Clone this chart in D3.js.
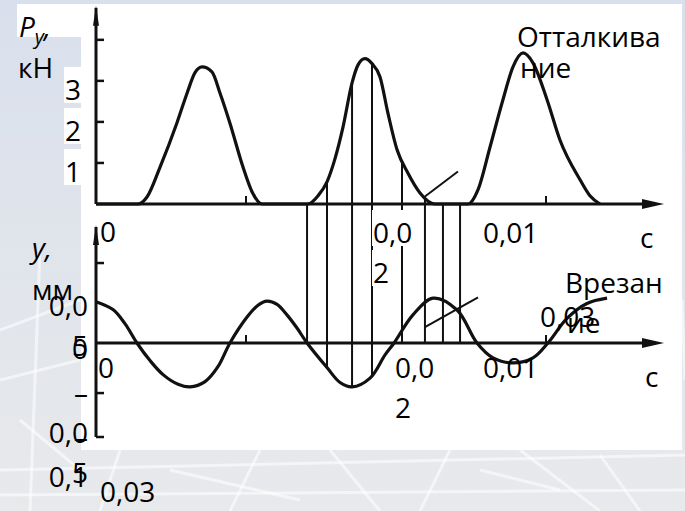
<!DOCTYPE html>
<html>
<head>
<meta charset="utf-8">
<script src="https://cdn.jsdelivr.net/npm/d3@7/dist/d3.min.js"></script>
<style>
    html, body { margin: 0; padding: 0; overflow: hidden; background: #e4e7ec; }
</style>
</head>
<body>
<script>

// Upper curve: cutting force P_y, kN, against time, s
var forceTime = [0, 0.0028, 0.0034, 0.00427, 0.0054, 0.00607, 0.0066, 0.00707, 0.00773, 0.00827,
    0.00893, 0.0098, 0.0104, 0.01107,
    0.01413, 0.0148, 0.0154, 0.01593, 0.01647, 0.01707, 0.01747, 0.01793, 0.0184, 0.01893,
    0.01947, 0.02007, 0.0208, 0.0216, 0.0226,
    0.0248, 0.02547, 0.02627, 0.02713, 0.0278, 0.02847, 0.02913, 0.03007, 0.03093, 0.03227,
    0.03293, 0.0336];
var forceKN = [0, 0, 0.17, 0.9, 1.98, 2.7, 3.2, 3.34, 3.22, 2.7,
    1.97, 0.9, 0.3, 0,
    0, 0.2, 0.54, 1.1, 1.88, 2.95, 3.39, 3.54, 3.42, 3.1,
    2.2, 1.32, 0.75, 0.27, 0,
    0, 0.35, 1.39, 2.54, 3.34, 3.68, 3.44, 2.54, 1.56, 0.59,
    0.2, 0];

// Lower curve: tool displacement y, mm, against time, s
var depthTime = [0, 0.00113, 0.00193, 0.00273, 0.0036, 0.00447, 0.00547, 0.00627, 0.00727, 0.00813,
    0.00893, 0.01007, 0.0108, 0.0114, 0.01207, 0.01273, 0.0134, 0.01407, 0.0154, 0.01627,
    0.01707, 0.01827, 0.01927, 0.01987, 0.02113, 0.02247, 0.02407, 0.0254, 0.02647, 0.0278,
    0.02913, 0.03013, 0.0314, 0.03273, 0.03407];
var depthMM = [0.047, 0.038, 0.022, 0, -0.02, -0.036, -0.047, -0.05, -0.044, -0.027,
    0, 0.0295, 0.043, 0.0477, 0.044, 0.032, 0.017, 0, -0.028, -0.045,
    -0.05, -0.04, -0.0136, 0, 0.032, 0.051, 0.0375, 0, -0.017, -0.0227,
    -0.017, 0, 0.028, 0.045, 0.051];

// vertical hatching between the two curves
var hatchTime = [0.01407, 0.0154, 0.01707, 0.0184, 0.0204, 0.02193, 0.02313, 0.02427];

var timeMarks = [0.01, 0.03];
var forceTicks = [1, 2, 3, 4];
var forceLabelValues = [3, 2, 1];
var depthTicks = [0.091, -0.057];
var depthLabelValues = [0.05, 0, -0.05, -0.1];
var depthLabelLines = [['0,0', '5'], ['0'], ['\u2013', '0,0', '5'], ['\u2013', '0,1']];

var width = 685,
    height = 511,
    font = '"Open Sans", "Noto Sans", sans-serif',
    fontSize = 28,
    lineGap = 40;

var svg = d3.select('body').append('svg')
    .attr('width', width)
    .attr('height', height);

var x = d3.scaleLinear().domain([0, 0.0378]).range([96, 663]);
var yTop = d3.scaleLinear().domain([0, 4.8]).range([204, 7]);
var yBot = d3.scaleLinear().domain([-0.107, 0.132]).range([437, 227]);

// ---- slide background
var defs = svg.append('defs');
var grad = defs.append('linearGradient')
    .attr('id', 'bg')
    .attr('x1', '0%').attr('y1', '0%')
    .attr('x2', '0%').attr('y2', '100%');
grad.append('stop').attr('offset', '0%').attr('stop-color', '#d9e0ed');
grad.append('stop').attr('offset', '55%').attr('stop-color', '#e1e5eb');
grad.append('stop').attr('offset', '100%').attr('stop-color', '#e8e9eb');

svg.append('rect')
    .attr('width', width).attr('height', height)
    .attr('fill', 'url(#bg)');

var streets = [
    [[0, 330], [80, 300]], [[0, 380], [80, 360]], [[20, 420], [80, 470]],
    [[0, 470], [685, 455]], [[120, 450], [100, 511]], [[260, 450], [230, 511]],
    [[330, 450], [380, 511]], [[450, 450], [420, 511]], [[520, 450], [600, 511]],
    [[600, 455], [640, 511]], [[0, 495], [685, 490]], [[40, 250], [30, 511]],
    [[682, 300], [685, 380]], [[170, 470], [300, 500]], [[480, 470], [560, 490]]
];
svg.append('g')
    .selectAll('line')
    .data(streets)
    .enter()
    .append('line')
    .attr('x1', function(d) { return d[0][0]; })
    .attr('y1', function(d) { return d[0][1]; })
    .attr('x2', function(d) { return d[1][0]; })
    .attr('y2', function(d) { return d[1][1]; })
    .attr('stroke', '#ffffff')
    .attr('stroke-opacity', 0.55)
    .attr('stroke-width', 3);

// the scanned figure sits on a white picture
svg.append('rect')
    .attr('x', 81).attr('y', 4)
    .attr('width', 601).attr('height', 446)
    .attr('fill', '#ffffff');

svg.append('rect')
    .attr('x', 17).attr('y', 4)
    .attr('width', 64).attr('height', 33)
    .attr('fill', '#ffffff');

var interp = function(ts, vs, t) {
    for (var i = 1; i < ts.length; i++) {
        if (t <= ts[i]) {
            var k = (t - ts[i - 1]) / (ts[i] - ts[i - 1]);
            return vs[i - 1] + k * (vs[i] - vs[i - 1]);
        }
    }
    return vs[vs.length - 1];
};

var ink = '#111111';
var plot = svg.append('g');

// hatching
plot.append('g')
    .selectAll('line')
    .data(hatchTime)
    .enter()
    .append('line')
    .attr('x1', function(d) { return x(d); })
    .attr('x2', function(d) { return x(d); })
    .attr('y1', function(d) { return yTop(interp(forceTime, forceKN, d)); })
    .attr('y2', function(d) { return yBot(Math.min(0, interp(depthTime, depthMM, d))); })
    .attr('stroke', ink)
    .attr('stroke-width', 2);

// leader strokes
plot.append('line')
    .attr('x1', x(hatchTime[5])).attr('y1', yTop(interp(forceTime, forceKN, hatchTime[5])))
    .attr('x2', x(hatchTime[5]) + 33).attr('y2', yTop(interp(forceTime, forceKN, hatchTime[5])) - 25)
    .attr('stroke', ink).attr('stroke-width', 2);
plot.append('line')
    .attr('x1', x(hatchTime[5])).attr('y1', yBot(0.018))
    .attr('x2', x(0.02547)).attr('y2', yBot(0.052))
    .attr('stroke', ink).attr('stroke-width', 2);

// axes
var axisPart = function(yScale, yFrom, yTo, ticks, marks) {
    var g = plot.append('g');
    g.append('line')
        .attr('x1', x(0)).attr('x2', x(0))
        .attr('y1', yScale(yFrom)).attr('y2', yScale(yTo))
        .attr('stroke', ink).attr('stroke-width', 3);
    g.append('path')
        .attr('d', 'M' + x(0) + ',' + (yScale(yFrom) - 2) + 'l-3,20h6z')
        .attr('fill', ink);
    g.append('line')
        .attr('x1', x(0)).attr('x2', x.range()[1] - 10)
        .attr('y1', yScale(0)).attr('y2', yScale(0))
        .attr('stroke', ink).attr('stroke-width', 3);
    g.append('path')
        .attr('d', 'M' + (x.range()[1] + 1) + ',' + yScale(0) + 'l-22,-5v10z')
        .attr('fill', ink);
    g.selectAll('.tick')
        .data(ticks)
        .enter()
        .append('line')
        .attr('x1', x(0)).attr('x2', x(0) + 8)
        .attr('y1', function(d) { return yScale(d); })
        .attr('y2', function(d) { return yScale(d); })
        .attr('stroke', ink).attr('stroke-width', 2.5);
    g.selectAll('.mark')
        .data(marks)
        .enter()
        .append('line')
        .attr('x1', function(d) { return x(d); })
        .attr('x2', function(d) { return x(d); })
        .attr('y1', yScale(0)).attr('y2', yScale(0) - 8)
        .attr('stroke', ink).attr('stroke-width', 2);
};

axisPart(yTop, 4.78, 0, forceTicks, timeMarks);
axisPart(yBot, 0.132, -0.107, depthTicks.concat([-0.107]), timeMarks);

// curves
var forceLine = d3.line()
    .x(function(d) { return x(d[0]); })
    .y(function(d) { return yTop(d[1]); })
    .curve(d3.curveMonotoneX);
var depthLine = d3.line()
    .x(function(d) { return x(d[0]); })
    .y(function(d) { return yBot(d[1]); })
    .curve(d3.curveCatmullRom.alpha(0.5));

plot.append('path')
    .attr('d', forceLine(d3.zip(forceTime, forceKN)))
    .attr('fill', 'none')
    .attr('stroke', ink)
    .attr('stroke-width', 3.2)
    .attr('stroke-linejoin', 'round');

plot.append('path')
    .attr('d', depthLine(d3.zip(depthTime, depthMM)))
    .attr('fill', 'none')
    .attr('stroke', ink)
    .attr('stroke-width', 3.2)
    .attr('stroke-linejoin', 'round');

// ---- texts
var texts = svg.append('g')
    .attr('font-family', font)
    .attr('font-size', fontSize)
    .attr('fill', '#000000');

var addText = function(str, tx, ty, anchor, boxed) {
    var t = texts.append('text')
        .attr('x', tx)
        .attr('y', ty)
        .attr('text-anchor', anchor || 'start')
        .text(str);
    if (boxed) {
        var b = t.node().getBBox();
        texts.insert('rect', 'text')
            .attr('x', b.x - 1)
            .attr('y', ty - 33)
            .attr('width', b.width + 2)
            .attr('height', 36)
            .attr('fill', '#ffffff');
    }
    return t;
};

// axis titles
var py = texts.append('text').attr('x', 19).attr('y', 37).style('font-style', 'italic');
py.append('tspan').text('P');
py.append('tspan').attr('font-size', 20).attr('dy', 7).text('y');
py.append('tspan').attr('dy', -7).text(',');
addText('\u043a\u041d', 18, 78);

texts.append('text').attr('x', 32).attr('y', 258).style('font-style', 'italic').text('y,');
addText('\u043c\u043c', 32, 300);

// force labels (scale-bound)
forceLabelValues.forEach(function(v) {
    var t = addText(String(v), 81, yTop(v) + 19, 'end', true);
});

// displacement labels, wrapped like in the slide
depthLabelValues.forEach(function(v, i) {
    depthLabelLines[i].forEach(function(s, j) {
        addText(s, 88, yBot(v) + 16.5 + j * lineGap, 'end');
    });
});

// time labels scattered over the figure
addText('0', 100, 242);
addText('0,0', 373, 243, 'start', true);
addText('2', 373, 283, 'start', true);
addText('0,01', 483, 243);
addText('c', 640, 248);

addText('0', 98, 378);
addText('0,0', 395, 378);
addText('2', 395, 418);
addText('0,01', 483, 378);
addText('c', 645, 387);
addText('0,03', 100, 502);

addText('\u041e\u0442\u0442\u0430\u043b\u043a\u0438\u0432\u0430', 517, 47);
addText('\u043d\u0438\u0435', 520, 78);
addText('\u0412\u0440\u0435\u0437\u0430\u043d', 565, 293);
addText('0,03', 540, 327);
addText('\u0438\u0435', 567, 333);

</script>
</body>
</html>
